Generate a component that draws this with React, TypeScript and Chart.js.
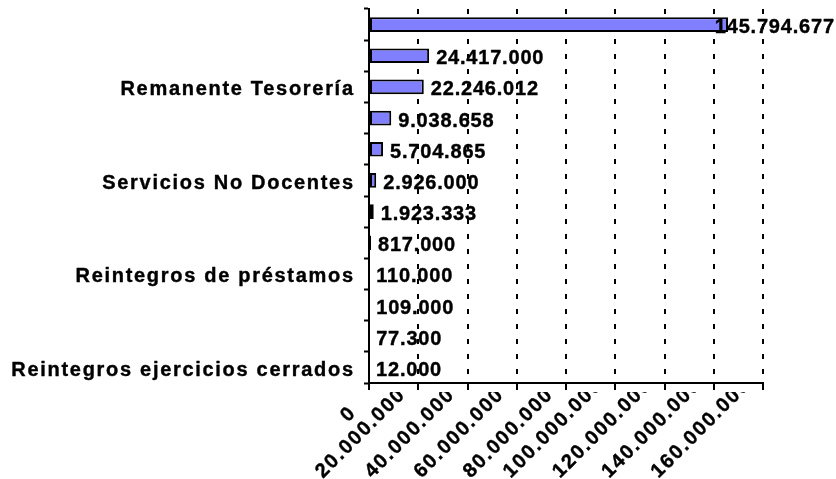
import { useEffect, useRef } from 'react';
import { Chart, registerables } from 'chart.js';

Chart.register(...registerables);

// Categories top to bottom (only every third label is shown in the reference)
const categories = [
  '',
  '',
  'Remanente Tesorería',
  '',
  '',
  'Servicios No Docentes',
  '',
  '',
  'Reintegros de préstamos',
  '',
  '',
  'Reintegros ejercicios cerrados',
];

const values = [
  145794677, 24417000, 22246012, 9038658, 5704865, 2926000, 1923333, 817000, 110000, 109000, 77300, 12000,
];

const xMin = 0;
const xMax = 160000000;
const xStep = 20000000;

const FONT = '"Liberation Sans", Arial, Helvetica, sans-serif';
const FONT_SIZE = 20;
const CAT_LS = 1.7;
const VAL_LS = 0.8;
const TICK_LS = 1.8;

const fmt = (n: number) => String(Math.round(n)).replace(/\B(?=(\d{3})+(?!\d))/g, '.');

const drawText = (ctx: CanvasRenderingContext2D, t: string, x: number, y: number) => {
  ctx.fillText(t, x, y);
  ctx.strokeText(t, x, y);
};

const textPlugin = {
  id: 'customText',
  afterDraw(chart: any) {
    const ctx: CanvasRenderingContext2D = chart.ctx;
    const xs = chart.scales.x;
    const ys = chart.scales.y;
    const area = chart.chartArea;
    ctx.save();
    ctx.fillStyle = '#000';
    ctx.strokeStyle = '#000';
    ctx.lineWidth = 0.4;
    ctx.lineJoin = 'round';
    ctx.font = `bold ${FONT_SIZE}px ${FONT}`;
    ctx.textAlign = 'left';

    // category labels
    (ctx as any).letterSpacing = `${CAT_LS}px`;
    ctx.textBaseline = 'alphabetic';
    (chart.data.labels as string[]).forEach((lab, i) => {
      if (!lab) return;
      const y = ys.getPixelForValue(i);
      const w = ctx.measureText(lab).width - CAT_LS;
      drawText(ctx, lab, area.left - 16 - w, y + 8.5);
    });

    // value labels
    (ctx as any).letterSpacing = `${VAL_LS}px`;
    const meta = chart.getDatasetMeta(0);
    meta.data.forEach((el: any, i: number) => {
      const txt = fmt(values[i]);
      const w = ctx.measureText(txt).width - VAL_LS;
      let x = el.x + 7;
      if (x + w > chart.width - 2) x = chart.width - 2 - w;
      drawText(ctx, txt, x, el.y + 8.5);
    });

    // x tick labels, rotated 45deg, clipped at the top like the reference
    (ctx as any).letterSpacing = `${TICK_LS}px`;
    ctx.save();
    ctx.beginPath();
    ctx.rect(0, xs.top + 9, chart.width, chart.height);
    ctx.clip();
    ctx.textBaseline = 'middle';
    xs.ticks.forEach((t: any, i: number) => {
      const txt = fmt(t.value);
      const L = ctx.measureText(txt).width - TICK_LS;
      const px = xs.getPixelForTick(i);
      const ay = Math.min(28, chart.height - xs.top + 3 - 0.707 * L - 0.354 * FONT_SIZE);
      ctx.save();
      ctx.translate(px - 17, xs.top + ay);
      ctx.rotate(-Math.PI / 4);
      drawText(ctx, txt, -L, 0);
      ctx.restore();
    });
    ctx.restore();
    ctx.restore();
  },
};

export default function App() {
  const ref = useRef<HTMLCanvasElement | null>(null);

  useEffect(() => {
    if (!ref.current) return;
    const chart = new Chart(ref.current, {
      type: 'bar',
      data: {
        labels: categories,
        datasets: [
          {
            data: values,
            backgroundColor: '#8080FF',
            borderColor: '#000000',
            borderWidth: 2,
            borderSkipped: false,
            barPercentage: 0.47,
            categoryPercentage: 1,
          },
        ],
      },
      options: {
        indexAxis: 'y',
        responsive: false,
        animation: false,
        devicePixelRatio: 1,
        layout: { padding: { top: 9, right: 73, left: 0, bottom: 0 } },
        plugins: {
          legend: { display: false },
          tooltip: { enabled: false },
        },
        scales: {
          x: {
            type: 'linear',
            min: xMin,
            max: xMax,
            ticks: { stepSize: xStep, display: false },
            grid: {
              color: (c: any) => (c.index === 0 ? 'rgba(0,0,0,0)' : '#000000'),
              lineWidth: 2,
              drawTicks: true,
              tickLength: 7,
              tickColor: '#000000',
              tickWidth: 2,
            },
            border: { display: true, color: '#000000', width: 2, dash: [5, 10] },
            afterFit: (s: any) => {
              s.height = 96;
            },
          },
          y: {
            type: 'category',
            offset: true,
            ticks: { display: false },
            grid: {
              drawOnChartArea: false,
              drawTicks: true,
              tickLength: 5,
              tickColor: '#000000',
              tickWidth: 2,
              offset: true,
            },
            border: { display: true, color: '#000000', width: 2 },
            afterFit: (s: any) => {
              s.width = 369;
            },
          },
        },
      },
      plugins: [textPlugin],
    });
    return () => chart.destroy();
  }, []);

  return (
    <div style={{ position: 'fixed', left: 0, top: 0, width: 836, height: 479, background: '#fff' }}>
      <canvas ref={ref} width={836} height={479} style={{ display: 'block' }} />
    </div>
  );
}
